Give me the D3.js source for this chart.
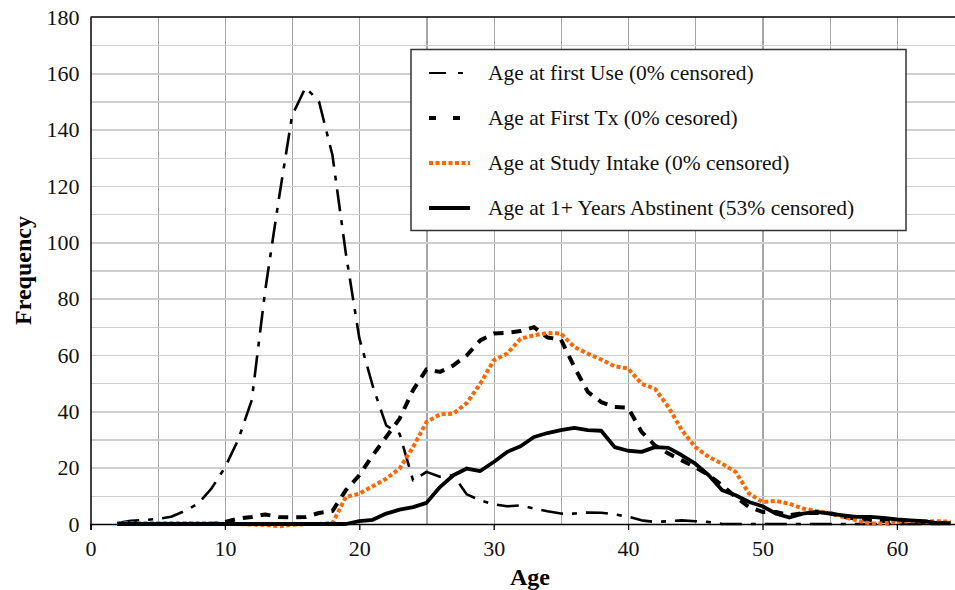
<!DOCTYPE html>
<html>
<head>
<meta charset="utf-8">
<script src="https://cdn.jsdelivr.net/npm/d3@7"></script>
<style>
  body { margin: 0; background: #fff; }
  svg { display: block; font-family: "Liberation Serif", "Times New Roman", serif; }
  .grid line { shape-rendering: crispEdges; }
</style>
</head>
<body>
<svg id="chart" width="955" height="590"></svg>
<script>
// ages on the x axis
var ages = [2,3,4,5,6,7,8,9,10,11,12,13,14,15,16,17,18,19,20,21,22,23,24,25,26,27,28,29,30,31,32,33,
            34,35,36,37,38,39,40,41,42,43,44,45,46,47,48,49,50,51,52,53,54,55,56,57,58,59,60,61,62,63,64];

var firstUse = [0.3,1.1,1.4,1.8,2.6,4.6,7.2,12.6,20,30,44,83,115,145,155,150,131,96,66,49,35,32,15.5,18.5,16.8,17.3,
                10.5,8.4,7,6.3,6.6,5.5,4.5,3.7,3.7,4.1,4,3.4,2.6,1.3,0.7,1,1.3,1,0.7,0,0,0,0,0,0,0,0,0,0,0,0,0,0,0,0,0,0];

var firstTx = [0,0,0,0,0,0,0,0,0.7,1.9,2.5,3.4,2.5,2.4,2.5,3.9,4.6,12,17.3,24.4,30.9,37.4,47.5,54.9,54,56.3,
               59.9,65.2,67.6,67.9,68.5,69.9,66.2,65.5,55.7,46.9,43.3,41.5,41.3,32.7,27.9,25,22.6,20.2,17.3,13.7,9.6,6,
               4.3,4.3,3.1,3.9,3.9,3.9,2.5,1.9,1.3,1.1,1,0.8,0.6,0.3,0.2];

var studyIntake = [0.3,0.3,0.3,0.3,0.3,0.3,0.3,0.3,0,0,-0.2,-0.3,-0.8,-0.3,0,0,0.3,9.6,10.8,13.4,16.1,19.7,27.3,36.2,38.9,39.2,
                   43,49.8,58.1,60.5,65.8,67,67.8,67.6,62.8,60.5,58.4,56,55.2,49.8,48,41.5,33.3,27.3,23.8,21.4,18.5,10.8,
                   7.8,8.2,7.2,5.5,4.6,3.9,2.5,1.3,0.2,0.2,0.8,1,1,1,0.8];

var abstinent = [0,0,0,0,0,0,0,0,0,0,0,0,0,0,0,0,0,0,1,1.5,3.7,5.1,6,7.5,13.1,17.3,19.7,18.8,22,25.6,27.6,30.9,
                 32.3,33.3,34.1,33.3,33.1,27.3,26,25.6,27.3,27,24.4,21.4,17.3,12,10.2,7.8,6.3,3.7,2.3,3.7,4.3,3.7,3.1,
                 2.5,2.5,2.2,1.6,1.3,1,0.3,0.3];

var seriesNames = ["Age at first Use (0% censored)",
                   "Age at First Tx (0% cesored)",
                   "Age at Study Intake (0% censored)",
                   "Age at 1+ Years Abstinent (53% censored)"];

var xTicks = [0,10,20,30,40,50,60];
var yTicks = [0,20,40,60,80,100,120,140,160,180];

var svg = d3.select("#chart");
var margin = {top: 17, left: 90.5, bottom: 66};
var height = 590 - margin.top - margin.bottom;

var xScale = d3.scaleLinear().domain([0, 65]).range([margin.left, margin.left + 65 * 13.44]);
var yScale = d3.scaleLinear().domain([0, 180]).range([margin.top + height, margin.top]);

// gridlines: vertical every 5, horizontal every 10
svg.append("g")
  .attr("class", "grid")
  .attr("transform", "translate(0," + margin.top + ")")
  .call(d3.axisBottom(xScale).tickValues(d3.range(5, 70, 5)).tickSize(height).tickFormat(""))
  .call(function(g){ g.select(".domain").remove(); })
  .selectAll("line").attr("stroke", "#a6a6a6").attr("stroke-width", 1.3);

svg.append("g")
  .attr("class", "grid")
  .attr("transform", "translate(" + margin.left + ",0)")
  .call(d3.axisRight(yScale).tickValues(d3.range(10, 180, 10)).tickSize(900).tickFormat(""))
  .call(function(g){ g.select(".domain").remove(); })
  .selectAll("line").attr("stroke", "#cfcfcf").attr("stroke-width", 1.6);

// top border
svg.append("line")
  .attr("x1", margin.left).attr("x2", 955)
  .attr("y1", yScale(180)).attr("y2", yScale(180))
  .attr("stroke", "#000").attr("stroke-width", 1.5);

// axes
var xAxis = svg.append("g")
  .attr("transform", "translate(0," + yScale(0) + ")")
  .call(d3.axisBottom(xScale).tickValues(xTicks).tickSize(6).tickPadding(10).tickFormat(d3.format("d")));
xAxis.select(".domain").attr("stroke", "#000").attr("stroke-width", 1.6);
xAxis.selectAll("line").attr("stroke-width", 1.3);
xAxis.selectAll("text").attr("font-size", 22).attr("font-family", "Liberation Serif").attr("fill", "#111");

var yAxis = svg.append("g")
  .attr("transform", "translate(" + margin.left + ",0)")
  .call(d3.axisLeft(yScale).tickValues(yTicks).tickSize(0).tickPadding(11).tickFormat(d3.format("d")));
yAxis.select(".domain").attr("stroke", "#000").attr("stroke-width", 1.5);
yAxis.selectAll("text").attr("font-size", 22).attr("font-family", "Liberation Serif").attr("fill", "#111");

// axis titles
svg.append("text")
  .attr("x", 530).attr("y", 585)
  .attr("text-anchor", "middle")
  .attr("font-weight", "bold").attr("font-size", 24)
  .text("Age");

svg.append("text")
  .attr("transform", "translate(31," + (margin.top + height / 2) + ") rotate(-90)")
  .attr("text-anchor", "middle")
  .attr("font-weight", "bold").attr("font-size", 24)
  .text("Frequency");

// series
var styles = [
  {data: firstUse,    color: "#000",    width: 2.6, dash: "22,9,5,9"},
  {data: firstTx,     color: "#000",    width: 4,   dash: "10,8"},
  {data: studyIntake, color: "#ff6600", width: 4,   dash: "4,2.5"},
  {data: abstinent,   color: "#000",    width: 3.8, dash: null}
];

var line = d3.line()
  .x(function(d){ return xScale(d[0]); })
  .y(function(d){ return yScale(d[1]); });

styles.forEach(function(s){
  svg.append("path")
    .datum(ages.map(function(a, i){ return [a, s.data[i]]; }))
    .attr("fill", "none")
    .attr("stroke", s.color)
    .attr("stroke-width", s.width)
    .attr("stroke-dasharray", s.dash)
    .attr("stroke-linejoin", "round")
    .attr("d", line);
});

// legend
var legend = svg.append("g");
legend.append("rect")
  .attr("x", 411).attr("y", 49.5).attr("width", 495).attr("height", 181)
  .attr("fill", "#fff").attr("stroke", "#333").attr("stroke-width", 1.5);

var rowY = [73, 118, 163, 208];
seriesNames.forEach(function(name, i){
  var s = styles[i];
  legend.append("line")
    .attr("x1", 429).attr("x2", 470)
    .attr("y1", rowY[i]).attr("y2", rowY[i])
    .attr("stroke", s.color)
    .attr("stroke-width", i == 0 ? 2.2 : 4)
    .attr("stroke-dasharray", i == 0 ? "17,12,5,12" : (i == 1 ? "7,17" : s.dash));
  legend.append("text")
    .attr("x", 488).attr("y", rowY[i] + 7)
    .attr("font-size", 21.5)
    .attr("fill", "#111")
    .text(name);
});
</script>
</body>
</html>
